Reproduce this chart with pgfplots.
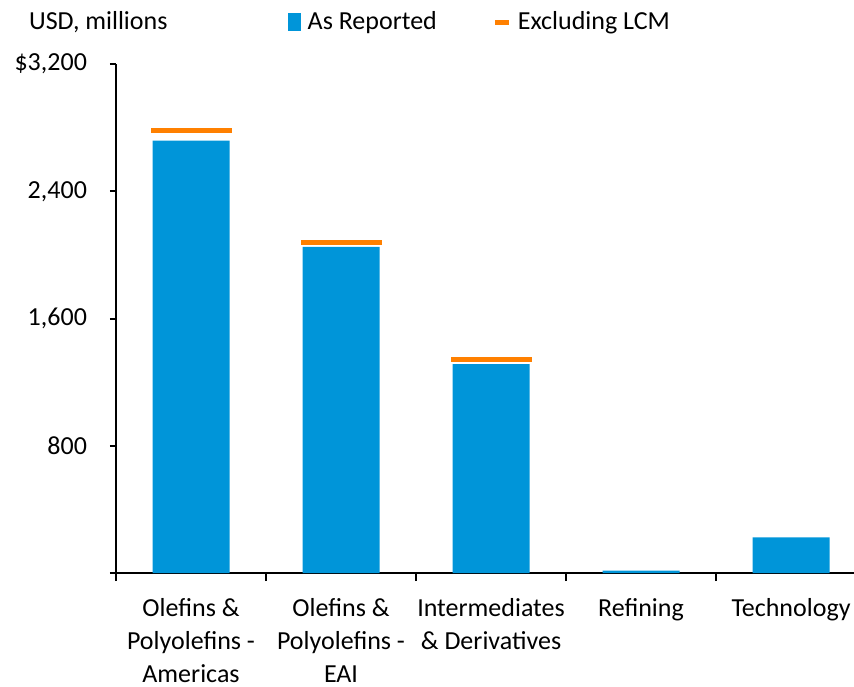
\documentclass[border=0pt]{standalone}
\usepackage{pgfplots}
\pgfplotsset{compat=1.18}
\usepackage{fontspec}
\setmainfont{Carlito}
\definecolor{barblue}{RGB}{0,149,217}
\definecolor{lcmorange}{RGB}{255,128,0}
\begin{document}
\begin{tikzpicture}
\begin{axis}[
  at={(0,0)}, anchor=south west,
  scale only axis, width=369pt, height=254.5pt,
  xmin=-0.5, xmax=4.42, ymin=0, ymax=3200,
  clip=false,
  axis x line*=bottom, axis y line*=left,
  axis line style={line width=1pt, black},
  tick align=outside,
  xtick={0,1,2,3,4},
  xticklabels={{Olefins \&\\Polyolefins -\\Americas},{Olefins \&\\Polyolefins -\\EAI},{Intermediates\\\& Derivatives},{Refining},{Technology}},
  major x tick style={draw=none},
  minor xtick={-0.5,0.5,1.5,2.5,3.5},
  minor tick length=4pt,
  minor x tick style={draw=black, line width=1pt},
  ytick={0,800,1600,2400,3200},
  yticklabels={{},{800},{1,600},{2,400},{\$3,200}},
  major tick length=3pt,
  y tick style={draw=black, line width=1pt},
  /pgf/number format/assume math mode=true,
  ticklabel style={font=\fontsize{13}{16.5}\selectfont},
  xticklabel style={align=center, yshift=-6pt},
  yticklabel style={xshift=-8pt},
  legend columns=2,
  legend style={at={(0.224,1.0825)}, anchor=west, draw=none, fill=none,
    font=\fontsize{13}{16}\selectfont,
    /tikz/every even column/.append style={column sep=26pt}},
  legend cell align=left,
]
\addplot[ybar, bar width=38.5pt, fill=barblue, draw=none,
  legend image code/.code={\fill[barblue] (0pt,-4.5pt) rectangle (6.5pt,4.5pt);}]
  coordinates {(0,2718) (1,2050) (2,1314) (3,15) (4,224)};
\addlegendentry{\hspace{1.5pt}As Reported}
\addplot[only marks, mark=-, mark size=20.25pt, mark options={line width=2.5pt, draw=lcmorange},
  legend image code/.code={\draw[line width=2.5pt, lcmorange] (0pt,0pt) -- (7pt,0pt);}]
  coordinates {(0,2779) (1,2078) (2,1342)};
\addlegendentry{\hspace{1pt}Excluding LCM}
\node[anchor=west, font=\fontsize{13}{16}\selectfont] at (rel axis cs:0,1) [xshift=-47pt, yshift=21pt] {USD, millions};
\end{axis}
\pgfresetboundingbox
\path (-58pt,-56.5pt) rectangle (369pt,286.5pt);
\end{tikzpicture}
\end{document}
